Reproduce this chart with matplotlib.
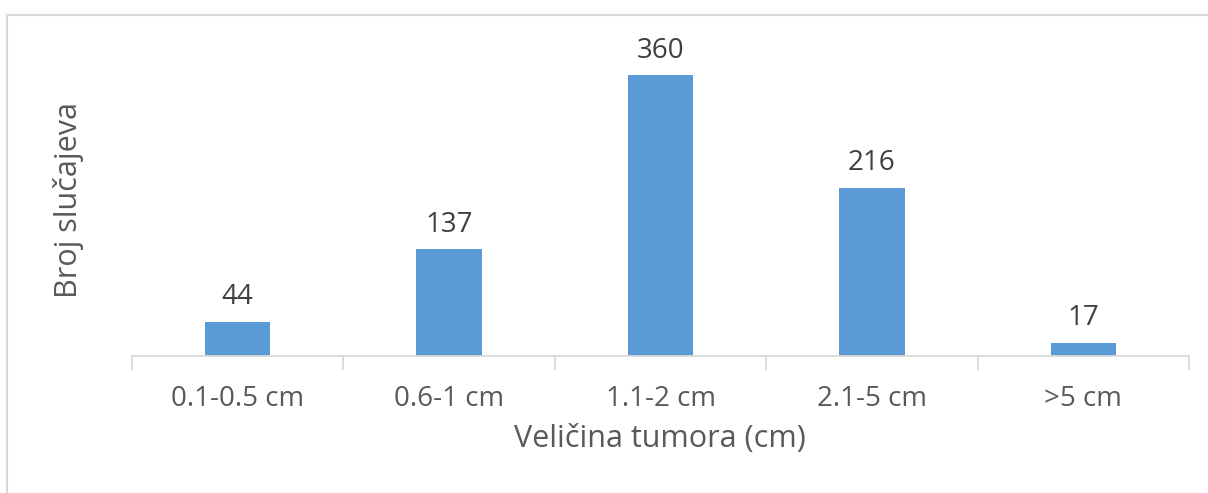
import numpy as np
import matplotlib.pyplot as plt
from matplotlib.lines import Line2D

# Data
categories = ['0.1-0.5 cm', '0.6-1 cm', '1.1-2 cm', '2.1-5 cm', '>5 cm']
counts = [44, 137, 360, 216, 17]

plt.rcParams['font.family'] = ['Open Sans', 'DejaVu Sans']
text_color = '#595959'
grid_color = '#D9D9D9'

W, H = 1208, 493
fig = plt.figure(figsize=(W / 100, H / 100), dpi=100)
ax = fig.add_axes([132 / W, 1 - 356 / H, (1189 - 132) / W, (356 - 44) / H])

x = np.arange(len(categories))
ax.bar(x, counts, width=0.31, color='#5B9BD5', zorder=2)

for xi, v in zip(x, counts):
    ax.annotate(str(v), (xi, v), xytext=(0, 12.5), textcoords='offset points',
                ha='center', va='baseline', fontsize=20, color='#404040')

ax.set_xlim(-0.5, len(categories) - 0.5)
ax.set_ylim(0, 400)
ax.set_yticks([])
ax.set_xticks(x)
ax.set_xticklabels(categories, fontsize=20, color=text_color)
ax.tick_params(axis='x', length=0, pad=21)

# category boundary ticks
ax.set_xticks(np.arange(-0.5, len(categories)), minor=True)
ax.tick_params(axis='x', which='minor', length=10, width=1.3, color=grid_color, direction='out')

for s in ['top', 'right', 'left']:
    ax.spines[s].set_visible(False)
ax.spines['bottom'].set_color(grid_color)
ax.spines['bottom'].set_linewidth(1.3)

fig.text(660 / W, 1 - 439 / H, 'Veličina tumora (cm)', ha='center', va='center',
         fontsize=22, color=text_color)
fig.text(68 / W, 1 - 200 / H, 'Broj slučajeva', ha='center', va='center',
         rotation=90, fontsize=22, color=text_color)

# chart border (top and left visible)
fig.add_artist(Line2D([7.5 / W, 7.5 / W], [0, 1 - 14.5 / H], color=grid_color, lw=1.5))
fig.add_artist(Line2D([7.5 / W, 1], [1 - 14.5 / H, 1 - 14.5 / H], color=grid_color, lw=1.5))

fig.savefig('out.png', dpi=100)
